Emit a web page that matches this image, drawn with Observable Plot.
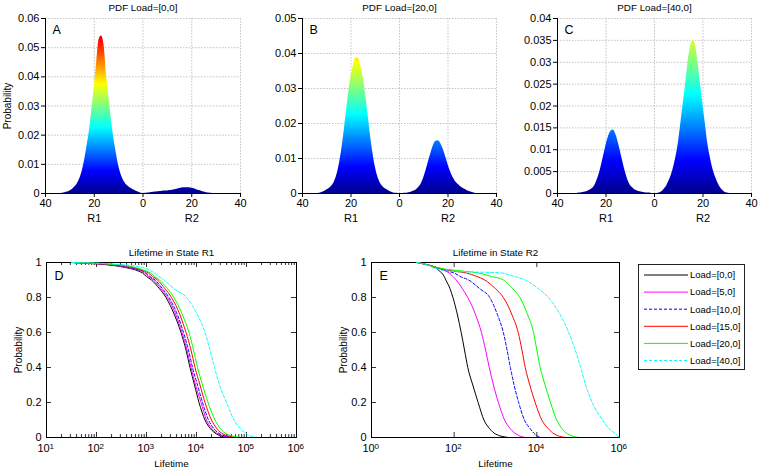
<!DOCTYPE html>
<html><head><meta charset="utf-8">
<script src="https://cdn.jsdelivr.net/npm/d3@7"></script>
<script src="https://cdn.jsdelivr.net/npm/@observablehq/plot@0.6"></script>
<style>
body{margin:0;background:#fff;font-family:"Liberation Sans",Arial,sans-serif;}
#fig{position:relative;width:761px;height:473px;overflow:hidden;background:#fff;}
#fig > svg{position:absolute;margin:0;}
#legend{position:absolute;left:638px;top:264px;width:105px;height:104px;border:1px solid #222;background:#fff;}
</style></head><body><div id="fig"><div id="legend"></div></div>
<script>
// ---------- PDF panels (distance from 0 toward R1 on the left, R2 on the right) ----------
const distance = [0,1,2,3,4,5,6,7,8,9,10,11,12,13,14,15,16,17,18,19,20,21,22,23,24,25,26,27,28,29,30,31,32,33,34,35,36,37,38,39,40];
const r1A = [0,0.0002,0.0005,0.0009,0.0013,0.0018,0.0024,0.0032,0.0045,0.0065,0.0096,0.0141,0.0190,0.0257,0.0331,0.0410,0.0510,0.0540,0.0528,0.0450,0.0362,0.0286,0.0214,0.0161,0.0112,0.0075,0.0050,0.0033,0.0022,0.0014,0.0009,0.0005,0.0003,0.0001,0,0,0,0,0,0,0];
const r2A = [0,0.0001,0.0002,0.0003,0.0004,0.0005,0.0006,0.0007,0.0008,0.0009,0.0009,0.0010,0.0011,0.0013,0.0015,0.0017,0.0019,0.0020,0.0020,0.0020,0.0018,0.0016,0.0013,0.0010,0.0008,0.0005,0.0003,0.0002,0.0001,0,0,0,0,0,0,0,0,0,0,0,0];
const r1B = [0,0.0001,0.0001,0.0003,0.0006,0.0010,0.0014,0.0021,0.0031,0.0049,0.0077,0.0117,0.0168,0.0228,0.0285,0.0333,0.0366,0.0387,0.0387,0.0366,0.0333,0.0285,0.0228,0.0168,0.0117,0.0077,0.0049,0.0031,0.0021,0.0014,0.0010,0.0006,0.0003,0.0001,0,0,0,0,0,0,0];
const r2B = [0,0,0.0001,0.0001,0.0002,0.0004,0.0007,0.0011,0.0018,0.0028,0.0045,0.0067,0.0092,0.0116,0.0137,0.0149,0.0151,0.0143,0.0127,0.0106,0.0083,0.0063,0.0047,0.0035,0.0027,0.0021,0.0016,0.0012,0.0008,0.0005,0.0003,0.0001,0,0,0,0,0,0,0,0,0];
const r1C = [0,0,0.0001,0.0001,0.0002,0.0003,0.0004,0.0006,0.0008,0.0013,0.0019,0.0031,0.0049,0.0071,0.0095,0.0118,0.0136,0.0145,0.0142,0.0130,0.0110,0.0086,0.0062,0.0041,0.0026,0.0015,0.0010,0.0007,0.0004,0.0003,0.0002,0.0001,0,0,0,0,0,0,0,0,0];
const r2C = [0,0,0.0001,0.0004,0.0010,0.0017,0.0029,0.0043,0.0063,0.0088,0.0122,0.0167,0.0212,0.0258,0.0308,0.0339,0.0350,0.0336,0.0297,0.0249,0.0202,0.0158,0.0113,0.0083,0.0058,0.0040,0.0026,0.0015,0.0008,0.0003,0.0001,0,0,0,0,0,0,0,0,0,0];

const pdfXTicks = [-40,-20,0,20,40];
const pdfXTickLabels = ["40","20","0","20","40"];
const stateLabels = ["R1","R2"];
const stateLabelX = [-20,20];
const yTicksA = [0,0.01,0.02,0.03,0.04,0.05,0.06];
const yTickLabelsA = ["0","0.01","0.02","0.03","0.04","0.05","0.06"];
const yTicksB = [0,0.01,0.02,0.03,0.04,0.05];
const yTickLabelsB = ["0","0.01","0.02","0.03","0.04","0.05"];
const yTicksC = [0,0.005,0.01,0.015,0.02,0.025,0.03,0.035,0.04];
const yTickLabelsC = ["0","0.005","0.01","0.015","0.02","0.025","0.03","0.035","0.04"];
const colorMax = 0.06;

// ---------- Lifetime survival curves ----------
const seriesNames = ["Load=[0,0]","Load=[5,0]","Load=[10,0]","Load=[15,0]","Load=[20,0]","Load=[40,0]"];
const levels = [1,0.99,0.97,0.95,0.94,0.92,0.9,0.85,0.8,0.7,0.6,0.5,0.4,0.3,0.2,0.1,0.05,0.02,0];
// log10(lifetime) at each probability level
const r1Load0  = [1.5,2.1,2.6,2.85,2.92,3.0,3.1,3.26,3.39,3.56,3.69,3.79,3.87,3.96,4.05,4.17,4.28,4.4,4.62];
const r1Load5  = [1.5,2.15,2.65,2.9,2.96,3.04,3.14,3.29,3.42,3.59,3.71,3.81,3.89,3.98,4.09,4.2,4.31,4.43,4.69];
const r1Load10 = [1.5,2.2,2.7,2.93,2.99,3.07,3.17,3.32,3.45,3.62,3.74,3.84,3.92,4.02,4.12,4.24,4.35,4.47,4.72];
const r1Load15 = [1.5,2.25,2.75,2.97,3.04,3.12,3.22,3.37,3.5,3.67,3.79,3.89,3.97,4.07,4.17,4.3,4.41,4.53,4.79];
const r1Load20 = [1.5,2.3,2.8,3.0,3.08,3.16,3.26,3.42,3.55,3.72,3.85,3.94,4.02,4.12,4.23,4.37,4.48,4.6,4.89];
const r1Load40 = [1.5,2.4,2.95,3.1,3.17,3.25,3.35,3.55,3.8,4.02,4.17,4.27,4.36,4.46,4.6,4.75,4.88,5.0,5.22];
const r2Load0  = [1.1,1.3,1.55,1.65,1.7,1.76,1.8,1.9,1.97,2.08,2.17,2.25,2.33,2.45,2.58,2.72,2.86,3.0,3.31];
const r2Load5  = [1.1,1.3,1.6,1.8,1.88,1.97,2.05,2.2,2.33,2.52,2.66,2.76,2.85,2.95,3.07,3.22,3.36,3.5,3.72];
const r2Load10 = [1.1,1.3,1.55,1.85,2.0,2.15,2.35,2.62,2.86,3.05,3.19,3.28,3.36,3.45,3.56,3.7,3.84,3.95,4.08];
const r2Load15 = [1.1,1.3,1.6,2.0,2.3,2.55,2.74,3.0,3.19,3.4,3.55,3.64,3.72,3.83,3.96,4.12,4.28,4.42,4.69];
const r2Load20 = [1.1,1.3,1.6,2.25,2.6,2.9,3.19,3.42,3.59,3.78,3.92,4.0,4.08,4.2,4.33,4.48,4.61,4.75,5.02];
const r2Load40 = [1.1,1.3,1.5,1.9,3.15,3.45,3.72,4.04,4.28,4.57,4.77,4.93,5.06,5.18,5.34,5.59,5.75,5.91,6.0];

const dTicks = [10,100,1e3,1e4,1e5,1e6];
const dTickExponents = ["1","2","3","4","5","6"];
const eTicks = [1,100,1e4,1e6];
const eTickExponents = ["0","2","4","6"];
const lifeYTicks = [0,0.2,0.4,0.6,0.8,1];
const lifeYTickLabels = ["0","0.2","0.4","0.6","0.8","1"];

// ---------- styling ----------
const FONT = '"Liberation Sans", Arial, sans-serif';
const TICKFONT = 11;
const lineStyles = [
  {stroke:"#000000"},{stroke:"#ff00ff"},{stroke:"#0000ff",strokeDasharray:"3,2"},
  {stroke:"#ff0000"},{stroke:"#00ff00"},{stroke:"#00ffff",strokeDasharray:"3,2"}
];
const jetStops = [[0,"#00008f"],[0.125,"#0000ff"],[0.375,"#00ffff"],[0.625,"#ffff00"],[0.875,"#ff0000"],[1,"#800000"]];
const fig = document.getElementById("fig");
const lookup = (ticks, labels) => { const m = new Map(ticks.map((t,i)=>[t,labels[i]])); return d => m.has(d) ? m.get(d) : ""; };

function place(svg, region){
  svg.style.left = region[0]+"px"; svg.style.top = region[1]+"px";
  fig.insertBefore(svg, document.getElementById("legend"));
}
function margins(region, box){
  return {width: region[2]-region[0], height: region[3]-region[1],
    marginLeft: box[0]-region[0], marginRight: region[2]-box[2],
    marginTop: box[1]-region[1], marginBottom: region[3]-box[3]};
}
function addJet(svg, id, y0, y1){
  const ns = "http://www.w3.org/2000/svg";
  const defs = document.createElementNS(ns,"defs");
  const g = document.createElementNS(ns,"linearGradient");
  g.setAttribute("id",id); g.setAttribute("gradientUnits","userSpaceOnUse");
  g.setAttribute("x1",0); g.setAttribute("x2",0); g.setAttribute("y1",y0); g.setAttribute("y2",y1);
  for (const [o,c] of jetStops){ const s=document.createElementNS(ns,"stop"); s.setAttribute("offset",o); s.setAttribute("stop-color",c); g.appendChild(s); }
  defs.appendChild(g); svg.insertBefore(defs, svg.firstChild);
}

function pdfPanel({region, box, r1, r2, yTicks, yLabels, title, letter, id, ylabel}){
  const rows = [];
  for (let i = distance.length-1; i > 0; i--) rows.push({x:-distance[i], y:r1[i]});
  for (let i = 0; i < distance.length; i++) rows.push({x:distance[i], y:r2[i]});
  const m = margins(region, box);
  const grid = {stroke:"#b4b4b4", strokeDasharray:"1.5,1.5", strokeWidth:0.8};
  const marks = [
    Plot.ruleX([-20,0,20,40], grid),
    Plot.ruleY(yTicks.slice(1), grid),
    Plot.areaY(rows, {x:"x", y:"y", fill:`url(#${id})`, curve:"monotone-x"}),
    Plot.ruleX([-40], {stroke:"black"}),
    Plot.ruleY([0], {stroke:"black"}),
    Plot.axisX({ticks:pdfXTicks, tickFormat:lookup(pdfXTicks,pdfXTickLabels), tickSize:4, tickPadding:2, label:null, fontSize:TICKFONT}),
    Plot.axisY({ticks:yTicks, tickFormat:lookup(yTicks,yLabels), tickSize:4, tickPadding:2, label:null, fontSize:TICKFONT}),
    Plot.text(stateLabels, {x:stateLabelX, text:d=>d, frameAnchor:"bottom", lineAnchor:"middle", dy:25, fontSize:TICKFONT}),
    Plot.text([title], {frameAnchor:"top", lineAnchor:"middle", dy:-10.5, fontSize:9.8}),
    Plot.text([letter], {frameAnchor:"top-left", textAnchor:"start", lineAnchor:"middle", dx:7, dy:11, fontSize:12.5})
  ];
  if (ylabel) marks.push(Plot.text([ylabel], {frameAnchor:"left", textAnchor:"middle", lineAnchor:"middle", rotate:-90, dx:-38, fontSize:10}));
  const svg = Plot.plot({...m, style:{fontFamily:FONT, background:"transparent", overflow:"visible"},
    x:{domain:[-40,40]}, y:{domain:[0, yTicks[yTicks.length-1]]}, marks});
  let y0, y1;
  try { const ys = svg.scale("y"); y0 = ys.apply(0); y1 = ys.apply(colorMax); }
  catch(e){ const h = box[3]-box[1]; y0 = m.marginTop + h; y1 = m.marginTop + h - h*colorMax/yTicks[yTicks.length-1]; }
  addJet(svg, id, y0, y1);
  place(svg, region);
}

function lifePanel({region, box, series, domain, ticks, exponents, minor, title, letter}){
  const m = margins(region, box);
  const pw = box[2]-box[0], ph = box[3]-box[1];
  const k = {stroke:"black", strokeWidth:0.8};
  const marks = [
    Plot.frame({stroke:"black"}),
    Plot.tickX(ticks, {x:d=>d, insetTop:ph-5, ...k}),
    Plot.tickX(ticks, {x:d=>d, insetBottom:ph-5, ...k}),
    Plot.tickX(minor, {x:d=>d, insetTop:ph-3, ...k}),
    Plot.tickX(minor, {x:d=>d, insetBottom:ph-3, ...k}),
    Plot.tickY(lifeYTicks, {y:d=>d, insetRight:pw-5, ...k}),
    Plot.tickY(lifeYTicks, {y:d=>d, insetLeft:pw-5, ...k}),
    Plot.axisX({ticks, tickFormat:()=>"10", tickSize:0, tickPadding:7, dx:-3, label:null, fontSize:TICKFONT}),
    Plot.text(ticks, {x:d=>d, text:(d,i)=>exponents[i], frameAnchor:"bottom", textAnchor:"start", lineAnchor:"middle", dx:3, dy:9, fontSize:8}),
    Plot.axisY({ticks:lifeYTicks, tickFormat:lookup(lifeYTicks,lifeYTickLabels), tickSize:0, tickPadding:5, label:null, fontSize:TICKFONT}),
    ...series.map((s,i)=>Plot.line(levels.map((p,j)=>({x:Math.pow(10,s[j]), y:p})),
        {x:"x", y:"y", curve:"monotone-x", strokeWidth:1, clip:true, ...lineStyles[i]})),
    Plot.text([title], {frameAnchor:"top", lineAnchor:"middle", dy:-10, fontSize:9.8}),
    Plot.text(["Lifetime"], {frameAnchor:"bottom", lineAnchor:"middle", dy:26, fontSize:9.8}),
    Plot.text(["Probability"], {frameAnchor:"left", textAnchor:"middle", lineAnchor:"middle", rotate:-90, dx:-28, fontSize:10}),
    Plot.text([letter], {frameAnchor:"top-left", textAnchor:"start", lineAnchor:"middle", dx:8, dy:13, fontSize:12.5})
  ];
  const svg = Plot.plot({...m, style:{fontFamily:FONT, background:"transparent", overflow:"visible"},
    x:{type:"log", domain}, y:{domain:[0,1]}, marks});
  place(svg, region);
}

pdfPanel({region:[0,0,252,228], box:[45,18,240,193], r1:r1A, r2:r2A, yTicks:yTicksA, yLabels:yTickLabelsA, title:"PDF Load=[0,0]", letter:"A", id:"jetA", ylabel:"Probability"});
pdfPanel({region:[252,0,507,228], box:[302,18,496,193], r1:r1B, r2:r2B, yTicks:yTicksB, yLabels:yTickLabelsB, title:"PDF Load=[20,0]", letter:"B", id:"jetB"});
pdfPanel({region:[507,0,761,228], box:[557,18,751,193], r1:r1C, r2:r2C, yTicks:yTicksC, yLabels:yTickLabelsC, title:"PDF Load=[40,0]", letter:"C", id:"jetC"});

const dMinor = [];
for (let e = 1; e < 6; e++) for (let f = 2; f < 10; f++) dMinor.push(f*Math.pow(10,e));
lifePanel({region:[0,228,320,473], box:[46,262,296,437], series:[r1Load0,r1Load5,r1Load10,r1Load15,r1Load20,r1Load40],
  domain:[10,1e6], ticks:dTicks, exponents:dTickExponents, minor:dMinor, title:"Lifetime in State R1", letter:"D"});
lifePanel({region:[320,228,630,473], box:[371,262,619,437], series:[r2Load0,r2Load5,r2Load10,r2Load15,r2Load20,r2Load40],
  domain:[1,1e6], ticks:eTicks, exponents:eTickExponents, minor:[], title:"Lifetime in State R2", letter:"E"});

// ---------- legend ----------
(function(){
  const ns = "http://www.w3.org/2000/svg";
  const svg = document.createElementNS(ns,"svg");
  svg.setAttribute("width",105); svg.setAttribute("height",104);
  svg.style.fontFamily = FONT; svg.style.fontSize = "9.5px";
  seriesNames.forEach((name,i)=>{
    const y = 10 + i*17.1;
    const l = document.createElementNS(ns,"line");
    l.setAttribute("x1",5); l.setAttribute("x2",49); l.setAttribute("y1",y); l.setAttribute("y2",y);
    l.setAttribute("stroke",lineStyles[i].stroke); l.setAttribute("stroke-width",1);
    if (lineStyles[i].strokeDasharray) l.setAttribute("stroke-dasharray",lineStyles[i].strokeDasharray);
    svg.appendChild(l);
    const t = document.createElementNS(ns,"text");
    t.setAttribute("x",51); t.setAttribute("y",y); t.setAttribute("dy","0.35em");
    t.textContent = name; svg.appendChild(t);
  });
  document.getElementById("legend").appendChild(svg);
})();
</script></body></html>
